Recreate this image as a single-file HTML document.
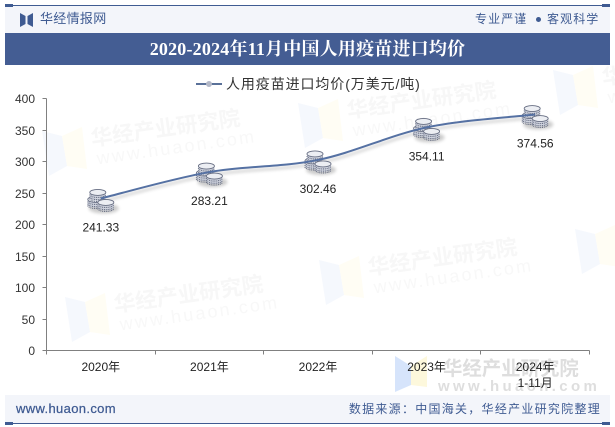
<!DOCTYPE html>
<html lang="zh">
<head>
<meta charset="utf-8">
<title>2020-2024年11月中国人用疫苗进口均价</title>
<style>
html,body{margin:0;padding:0;background:#fff;}
#page{position:relative;width:615px;height:427px;overflow:hidden;background:#fff;font-family:"Liberation Sans","Noto Sans CJK SC",sans-serif;}
#page div{position:absolute;white-space:nowrap;}
svg{position:absolute;left:0;top:0;}
</style>
</head>
<body>
<div id="page">
  <div style="left:5px;top:6px;width:605px;height:27px;background:#f3f5fa;"></div>
  <div style="left:5px;top:5px;width:605px;height:1px;background:#3f5b92;"></div>
  <div style="left:5px;top:4px;width:8px;height:3px;background:#3f5b92;"></div>
  <div style="left:602px;top:4px;width:8px;height:3px;background:#3f5b92;"></div>
  <div style="left:40px;top:11px;font-size:13px;line-height:16px;letter-spacing:0.3px;color:#3f5b92;">华经情报网</div>
  <div style="left:475px;top:11px;font-size:12px;line-height:16px;letter-spacing:1.1px;color:#3f5b92;">专业严谨</div>
  <div style="left:536px;top:17px;width:5px;height:5px;border-radius:50%;background:#3f5b92;"></div>
  <div style="left:547px;top:11px;font-size:12px;line-height:16px;letter-spacing:1.1px;color:#3f5b92;">客观科学</div>
  <div style="left:5px;top:33px;width:605px;height:32px;background:#445d93;"></div>
  <div style="left:5px;top:39px;width:605px;text-align:center;font-family:'Liberation Serif','Noto Serif CJK SC',serif;font-weight:bold;font-size:18px;line-height:21px;letter-spacing:0.2px;color:#fff;">2020-2024年11月中国人用疫苗进口均价</div>
  <div style="left:5px;top:395px;width:605px;height:28px;background:#f3f5fa;"></div>
  <div style="left:5px;top:423px;width:605px;height:1px;background:#3f5b92;"></div>
  <div style="left:5px;top:422px;width:8px;height:3px;background:#3f5b92;"></div>
  <div style="left:602px;top:422px;width:8px;height:3px;background:#3f5b92;"></div>
  <div style="left:16px;top:401px;font-size:13px;line-height:16px;letter-spacing:0.35px;-webkit-text-stroke:0.25px #3f5b92;color:#3f5b92;">www.huaon.com</div>
  <div style="right:14px;top:401px;font-size:12px;line-height:16px;letter-spacing:1.27px;color:#3f5b92;">数据来源：中国海关，华经产业研究院整理</div>

  <svg id="chart" width="615" height="427" viewBox="0 0 615 427" xmlns="http://www.w3.org/2000/svg">
    <defs>
      <clipPath id="plot-clip"><rect x="0" y="65" width="615" height="330"/></clipPath>
      <filter id="soft" x="-30%" y="-60%" width="160%" height="220%"><feGaussianBlur stdDeviation="1.5"/></filter>
      <g id="coin">
        <path d="M-8 0v5a8 3 0 0 0 16 0v-5z" fill="#cfd3de"/>
        <path d="M-8 2a8 3 0 0 0 16 0M-8 4.2a8 3 0 0 0 16 0M-8 6a8 3 0 0 0 16 0" fill="none" stroke="#666d82" stroke-width="1.1" stroke-dasharray="1 0.8"/>
        <ellipse cx="0" cy="0" rx="8" ry="3" fill="#eceef3" stroke="#666d82" stroke-width="0.9"/>
      </g>
      <g id="coin-stack">
        <ellipse cx="3" cy="10" rx="15" ry="5" fill="#000" opacity="0.2" filter="url(#soft)"/>
        <use href="#coin" x="-5" y="1"/>
        <use href="#coin" x="-3" y="-6"/>
        <use href="#coin" x="5" y="4"/>
      </g>
    </defs>
    <g id="watermarks" clip-path="url(#plot-clip)"></g>
    <g id="axes"></g>
    <g id="series"></g>
    <g id="legend">
      <line x1="196" y1="84" x2="222" y2="84" stroke="#5a7199" stroke-width="2"/>
      <circle cx="209" cy="84" r="3" fill="#b4b9c8"/>
      <text x="226" y="89" font-size="14" letter-spacing="0.9" fill="#333" font-family="'Liberation Sans','Noto Sans CJK SC',sans-serif">人用疫苗进口均价(万美元/吨)</text>
    </g>
  </svg>
  <div style="left:20px;top:13px;width:0;height:0;">
    <svg width="13" height="14" viewBox="0 0 13 14"><path d="M0 0l5.5 3v8L0 14z" fill="#3f5b92"/><path d="M13 0L7.5 3v8l5.5 3z" fill="#3f5b92"/></svg>
  </div>
</div>
<script>
var categories = ["2020年", "2021年", "2022年", "2023年", "2024年"];
var categorySubLabels = ["", "", "", "", "1-11月"];
var seriesValues = [241.33, 283.21, 302.46, 354.11, 374.56];
var valueLabels = ["241.33", "283.21", "302.46", "354.11", "374.56"];
var yTickValues = [0, 50, 100, 150, 200, 250, 300, 350, 400];

var NS = "http://www.w3.org/2000/svg";
var plotLeft = 46.5, plotRight = 589.5, plotTop = 98.5, plotBottom = 350.5;
var yMax = 400;
function xBand(i) { return plotLeft + (plotRight - plotLeft) * i / categories.length; }
function xScale(i) { return xBand(i + 0.5); }
function yScale(v) { return plotBottom - (plotBottom - plotTop) * v / yMax; }
function make(parent, tag, attrs, text) {
  var el = document.createElementNS(NS, tag);
  for (var k in attrs) el.setAttribute(k, attrs[k]);
  if (text !== undefined) el.textContent = text;
  parent.appendChild(el);
  return el;
}
var FONT = "'Liberation Sans','Noto Sans CJK SC',sans-serif";

/* faint rotated watermarks */
var wm = document.getElementById("watermarks");
function watermark(x, y) {
  var g = make(wm, "g", {transform: "translate(" + x + " " + y + ")"});
  
  
  make(g, "path", {d: "M-50 -15L-30 -10L-25 20L-43 30Z", fill: "#f5f8fd"});
  make(g, "path", {d: "M-30 -10L-10 -19L-5 23L-25 20Z", fill: "#fffdf4"});
  var t = make(g, "g", {transform: "rotate(-8)"});
  make(t, "text", {x: 0, y: 0, "font-size": 21.5, "font-weight": "bold", fill: "#f7f7f7", "font-family": FONT}, "华经产业研究院");
  make(t, "text", {x: 3, y: 19, "font-size": 18, "letter-spacing": 2.2, fill: "#f8f8f8", "font-family": FONT}, "www.huaon.com");
}
watermark(92, 146);
watermark(115, 312);
watermark(369, 275);
watermark(348, 118);
watermark(625, 244);
watermark(603, 85);

/* solid watermark at lower right */
var wmFront = make(wm, "g", {});


make(wmFront, "path", {d: "M395 356L411 366V385L395 392Z", fill: "#d6e4fb"});
make(wmFront, "path", {d: "M427 356L411 366V385L427 387Z", fill: "#fdf8dc"});
make(wmFront, "text", {x: 443, y: 375, "font-size": 19.4, "font-weight": "bold", fill: "#dedede", "font-family": FONT}, "华经产业研究院");
make(wmFront, "text", {x: 438, y: 391, "font-size": 15, "font-weight": "bold", "letter-spacing": 3.35, fill: "#dedede", "font-family": FONT}, "www.huaon.com");

/* axes */
var axes = document.getElementById("axes");
var axisColor = "#808080";
var yAxis = make(axes, "line", {x1: plotLeft, y1: plotTop, x2: plotLeft, y2: plotBottom, stroke: axisColor});


var xAxis = make(axes, "line", {x1: plotLeft, y1: plotBottom, x2: plotRight, y2: plotBottom, stroke: axisColor});


yTickValues.forEach(function (v) {
  var y = Math.round(yScale(v) - 0.5) + 0.5;
  var t = make(axes, "line", {x1: plotLeft - 4, y1: y, x2: plotLeft, y2: y, stroke: axisColor});
  
  
  var l = make(axes, "text", {x: 35, y: y + 4.5, "text-anchor": "end", "font-size": 12, fill: "#333", "font-family": FONT}, String(v));
  
  
});
for (var b = 0; b <= categories.length; b++) {
  var bx = Math.round(xBand(b) - 0.5) + 0.5;
  var tk = make(axes, "line", {x1: bx, y1: plotBottom, x2: bx, y2: plotBottom + 4, stroke: axisColor});
  
  
}
categories.forEach(function (c, i) {
  var l = make(axes, "text", {x: xScale(i), y: 371, "text-anchor": "middle", "font-size": 12, fill: "#222", "font-family": FONT}, c);
  
  
  if (categorySubLabels[i]) {
    var s = make(axes, "text", {x: xScale(i), y: 387, "text-anchor": "middle", "font-size": 12, fill: "#222", "font-family": FONT}, categorySubLabels[i]);
    
    
  }
});

/* series */
var series = document.getElementById("series");
var pts = seriesValues.map(function (v, i) { return [xScale(i), yScale(v)]; });
function smoothPath(p) {
  var d = "M" + p[0][0] + " " + p[0][1];
  for (var i = 0; i < p.length - 1; i++) {
    var p0 = p[Math.max(i - 1, 0)], p1 = p[i], p2 = p[i + 1], p3 = p[Math.min(i + 2, p.length - 1)];
    d += "C" + (p1[0] + (p2[0] - p0[0]) / 6) + " " + (p1[1] + (p2[1] - p0[1]) / 6) + " " +
         (p2[0] - (p3[0] - p1[0]) / 6) + " " + (p2[1] - (p3[1] - p1[1]) / 6) + " " + p2[0] + " " + p2[1];
  }
  return d;
}
var shadowPath = make(series, "path", {d: smoothPath(pts), transform: "translate(1 3)", fill: "none", stroke: "#000", "stroke-width": 2.2, opacity: 0.2, filter: "url(#soft)"});


pts.forEach(function (p) {
  var m = make(series, "use", {href: "#coin-stack", transform: "translate(" + p[0] + " " + p[1] + ")"});
  
  
});
var linePath = make(series, "path", {d: smoothPath(pts), fill: "none", stroke: "#5571a3", "stroke-width": 2});


pts.forEach(function (p, i) {
  var l = make(series, "text", {x: p[0], y: p[1] + 33, "text-anchor": "middle", "font-size": 12, fill: "#222", "font-family": FONT}, valueLabels[i]);
  
  
});
</script>
</body>
</html>
